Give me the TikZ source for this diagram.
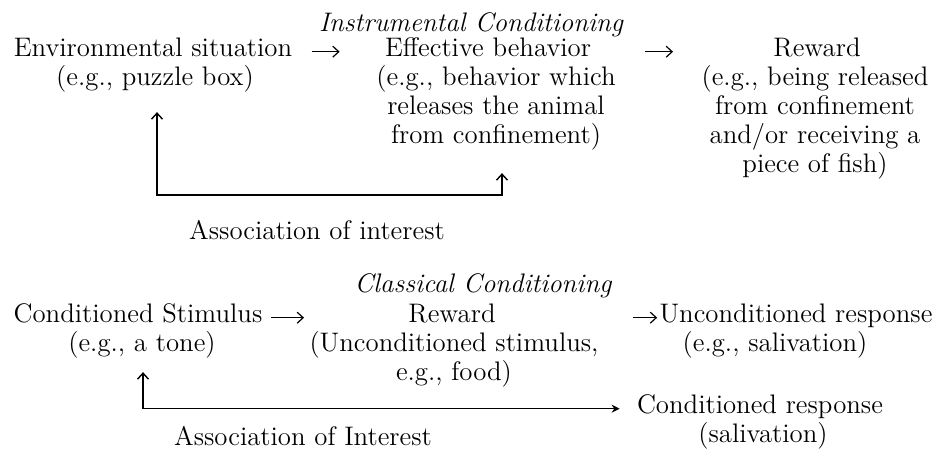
\documentclass[tikz,border=0pt]{standalone}
\usetikzlibrary{arrows.meta}
\tikzset{
  txt/.style={inner sep=0pt, anchor=base, align=center, font=\fontsize{13.4}{14.5}\selectfont},
  ttl/.style={txt, font=\fontsize{13.4}{14.5}\selectfont\itshape},
  tip/.style={-{Straight Barb[length=3pt,width=5.5pt]}, line width=0.6pt},
  fb/.style={{Straight Barb[length=3pt,width=5.5pt]}-{Straight Barb[length=3pt,width=5.5pt]}, line width=0.7pt}
}
\begin{document}
\begin{tikzpicture}[x=0.5pt,y=-0.5pt] %Instrumental and classical conditioning
    \useasboundingbox (0,0) rectangle (936,450);

    % instrumental (base of a note = its last line)
    \node[ttl] (titleI) at (471,31) {Instrumental Conditioning};
    \node[txt] (env) at (153,56) {Environmental situation};
    \node[txt] (envnote) at (155,85) {(e.g., puzzle box)};
    \node[txt] (eff) at (488,56) {Effective behavior};
    \node[txt] (effnote) at (496,143) {(e.g., behavior which\\releases the animal\\from confinement)};
    \node[txt] (rew) at (817,56) {Reward};
    \node[txt] (rewnote) at (815,172) {(e.g., being released\\from confinement\\and/or receiving a\\piece of fish)};
    \node[txt] (assocI) at (317,239) {Association of interest};

    \draw[tip, shorten <=9.5pt, shorten >=22.5pt] (env.mid east) -- (eff.mid west);
    \draw[tip, shorten <=27pt, shorten >=50pt] (eff.mid east) -- (rew.mid west);

    \coordinate (loopI) at (157,195);
    \draw[fb, shorten <=10pt, shorten >=11.5pt] ([xshift=1pt]envnote.south) |- (loopI) -| ([xshift=3pt]effnote.south);

    % classical
    \node[ttl] (titleC) at (483,292) {Classical Conditioning};
    \node[txt] (cs) at (138,322) {Conditioned Stimulus};
    \node[txt] (csnote) at (142,351) {(e.g., a tone)};
    \node[txt] (ucs) at (452,322) {Reward};
    \node[txt] (ucsnote) at (454,380) {(Unconditioned stimulus,\\e.g., food)};
    \node[txt] (ur) at (796,322) {Unconditioned response};
    \node[txt] (urnote) at (775,351) {(e.g., salivation)};
    \node[txt] (cr) at (760,413) {Conditioned response};
    \node[txt] (crnote) at (763,442) {(salivation)};
    \node[txt] (assocC) at (303,445) {Association of Interest};

    \draw[tip, shorten <=4pt, shorten >=52pt] (cs.mid east) -- (ucs.mid west);
    \draw[tip, shorten <=68.5pt, shorten >=1pt] (ucs.mid east) -- (ur.mid west);

    \draw[line width=0.7pt, {Straight Barb[length=3pt,width=5.5pt]}-{Stealth[length=4pt,width=4pt]}, shorten <=7pt, shorten >=8.5pt]
        ([xshift=0.5pt]csnote.south) |- (cr.mid west);
\end{tikzpicture}
\end{document}
